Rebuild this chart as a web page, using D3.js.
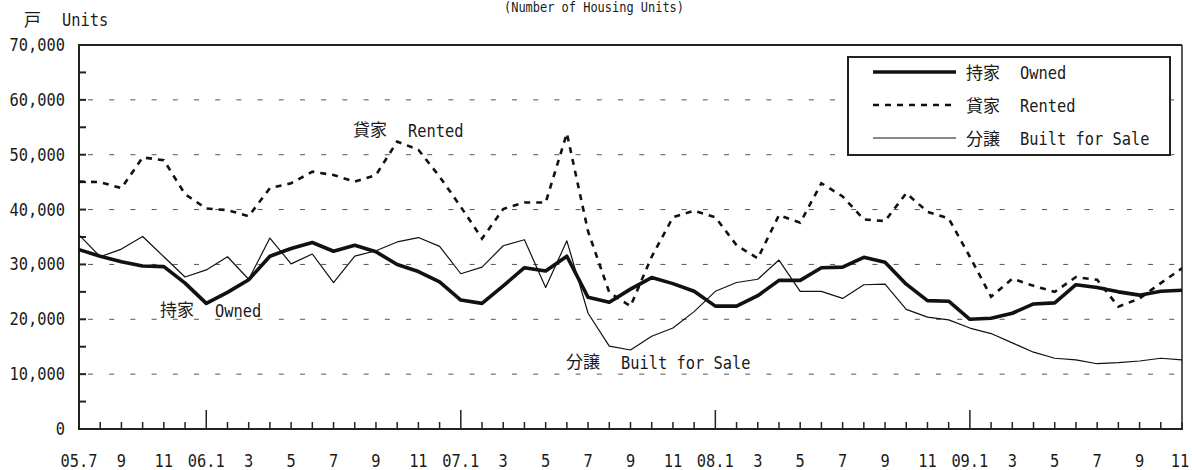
<!DOCTYPE html>
<html><head><meta charset="utf-8">
<script src="https://cdn.jsdelivr.net/npm/d3@7"></script>
<style>
html,body{margin:0;padding:0;background:#fff;}
svg{display:block;}
.lat{font-family:"DejaVu Sans Mono","Liberation Mono",monospace;font-size:17.5px;fill:#1a1a1a;}
.cjk{font-family:"Noto Sans CJK JP","Noto Sans CJK SC",sans-serif;font-size:17px;fill:#1a1a1a;}
</style></head>
<body>
<svg id="chart" width="1192" height="470"></svg>
<script>
const months = [
 "05.7","05.8","05.9","05.10","05.11","05.12",
 "06.1","06.2","06.3","06.4","06.5","06.6","06.7","06.8","06.9","06.10","06.11","06.12",
 "07.1","07.2","07.3","07.4","07.5","07.6","07.7","07.8","07.9","07.10","07.11","07.12",
 "08.1","08.2","08.3","08.4","08.5","08.6","08.7","08.8","08.9","08.10","08.11","08.12",
 "09.1","09.2","09.3","09.4","09.5","09.6","09.7","09.8","09.9","09.10","09.11"
];
const owned = [32700,31500,30500,29700,29600,26600,22900,24900,27200,31500,32900,34000,32400,33500,32300,30000,28700,26800,
 23500,22900,26100,29400,28800,31500,24000,23100,25500,27600,26500,25100,
 22400,22400,24300,27100,27100,29400,29500,31300,30400,26400,23400,23300,
 20000,20200,21100,22800,23000,26300,25800,25000,24400,25100,25300];
const rented = [45100,45000,43900,49500,49000,42800,40200,39900,38800,43900,44800,46900,46300,45100,46300,52400,50900,46000,
 40500,34700,40100,41300,41300,53900,36000,24900,22400,31400,38600,39800,
 38600,33500,31100,39000,37600,44800,42400,38200,37900,43000,39600,38400,
 31400,24100,27400,26100,25000,27700,27200,22300,23800,26600,29300];
const builtForSale = [35400,31400,32800,35100,31400,27700,29000,31400,27300,34800,30100,31900,26700,31500,32500,34100,34900,33300,
 28300,29500,33400,34500,25800,34300,21100,15100,14400,16900,18400,21400,
 25100,26700,27300,30800,25100,25100,23800,26300,26400,21800,20400,19900,
 18400,17400,15700,14000,12900,12600,11900,12100,12400,12900,12600];
const xTickLabels = ["05.7","9","11","06.1","3","5","7","9","11","07.1","3","5","7","9","11",
 "08.1","3","5","7","9","11","09.1","3","5","7","9","11"];
const yTickLabels = ["0","10,000","20,000","30,000","40,000","50,000","60,000","70,000"];
const yTickValues = [0,10000,20000,30000,40000,50000,60000,70000];
const seriesNames = [
 {cjk:"持家", en:"Owned"},
 {cjk:"貸家", en:"Rented"},
 {cjk:"分譲", en:"Built for Sale"}
];

const L=79, R=1182, T=45, B=429;
const CH = 9.25; // advance per half-width char
const svg = d3.select("#chart");
const x = d3.scaleLinear().domain([0, months.length-1]).range([L, R]);
const y = d3.scaleLinear().domain([0, 70000]).range([B, T]);

function lat(sel){
  return sel.attr("class","lat")
    .attr("textLength", function(){ return this.textContent.length*CH; })
    .attr("lengthAdjust","spacingAndGlyphs");
}

// gridlines
svg.append("g").selectAll("line").data(yTickValues.filter(v=>v>0 && v<70000)).join("line")
  .attr("x1", L+9).attr("x2", R).attr("y1", d=>y(d)).attr("y2", d=>y(d))
  .attr("stroke","#555").attr("stroke-width",1).attr("stroke-dasharray","5,16.2");

// y ticks (inward)
const yTicks = d3.range(0, 70001, 5000);
svg.append("g").selectAll("line").data(yTicks).join("line")
  .attr("x1", L).attr("x2", L+7).attr("y1", d=>y(d)).attr("y2", d=>y(d))
  .attr("stroke","#222").attr("stroke-width",2);

// x ticks (inward)
const isJan = d => /\.1$/.test(d);
svg.append("g").selectAll("line").data(months).join("line")
  .attr("x1",(d,i)=>x(i)).attr("x2",(d,i)=>x(i))
  .attr("y1", B).attr("y2", d => isJan(d) ? B-19 : B-7)
  .attr("stroke","#222").attr("stroke-width",1.5);

// frame
svg.append("line").attr("x1",L).attr("x2",R).attr("y1",T).attr("y2",T).attr("stroke","#222").attr("stroke-width",2);
svg.append("line").attr("x1",R).attr("x2",R).attr("y1",T).attr("y2",B).attr("stroke","#222").attr("stroke-width",1.5);
svg.append("line").attr("x1",L).attr("x2",L).attr("y1",T-1).attr("y2",B+1).attr("stroke","#222").attr("stroke-width",2);
svg.append("line").attr("x1",L-1).attr("x2",R+1).attr("y1",B).attr("y2",B).attr("stroke","#222").attr("stroke-width",2);

// y labels
svg.append("g").selectAll("text").data(yTickValues).join("text")
  .text((d,i)=>yTickLabels[i])
  .call(lat)
  .attr("x", 65).attr("y", d=>y(d)+6).attr("text-anchor","end");

// x labels
svg.append("g").selectAll("text").data(xTickLabels).join("text")
  .text(d=>d)
  .call(lat)
  .attr("x",(d,i)=>Math.min(x(i*2), 1180)).attr("y",467).attr("text-anchor","middle");

// lines
const line = d3.line().x((d,i)=>x(i)).y(d=>y(d));
svg.append("path").datum(builtForSale).attr("d",line).attr("fill","none")
  .attr("stroke","#111").attr("stroke-width",1.2).attr("stroke-linejoin","round");
svg.append("path").datum(rented).attr("d",line).attr("fill","none")
  .attr("stroke","#111").attr("stroke-width",2.6).attr("stroke-dasharray","6,6");
svg.append("path").datum(owned).attr("d",line).attr("fill","none")
  .attr("stroke","#111").attr("stroke-width",3.6).attr("stroke-linejoin","round");

// unit label & title
svg.append("text").attr("class","cjk").attr("x",24).attr("y",26).text("戸");
svg.append("text").text("Units").call(lat).attr("x",62).attr("y",26);
svg.append("text").attr("class","lat").style("font-size","14px")
  .attr("x",594).attr("y",12).attr("text-anchor","middle")
  .attr("textLength",180).attr("lengthAdjust","spacingAndGlyphs")
  .text("(Number of Housing Units)");

// annotations
const ann = [
  {s:1, cx:353, ex:408, by:137},
  {s:0, cx:160, ex:215, by:317},
  {s:2, cx:566, ex:621, by:369}
];
ann.forEach(a=>{
  svg.append("text").attr("class","cjk").attr("x",a.cx).attr("y",a.by-1).text(seriesNames[a.s].cjk);
  svg.append("text").text(seriesNames[a.s].en).call(lat).attr("x",a.ex).attr("y",a.by);
});

// legend
const lg = svg.append("g");
lg.append("rect").attr("x",848).attr("y",57).attr("width",322).attr("height",98)
  .attr("fill","#fff").attr("stroke","#222").attr("stroke-width",2);
const rows = [72,105,138];
const styles = [{w:3.6,dash:null},{w:2.6,dash:"6,6"},{w:1.2,dash:null}];
seriesNames.forEach((s,i)=>{
  lg.append("line").attr("x1",873).attr("x2",956).attr("y1",rows[i]).attr("y2",rows[i])
    .attr("stroke","#111").attr("stroke-width",styles[i].w).attr("stroke-dasharray",styles[i].dash);
  lg.append("text").attr("class","cjk").attr("x",966).attr("y",rows[i]+7).text(s.cjk);
  lg.append("text").text(s.en).call(lat).attr("x",1020).attr("y",rows[i]+7);
});
</script>
</body></html>
